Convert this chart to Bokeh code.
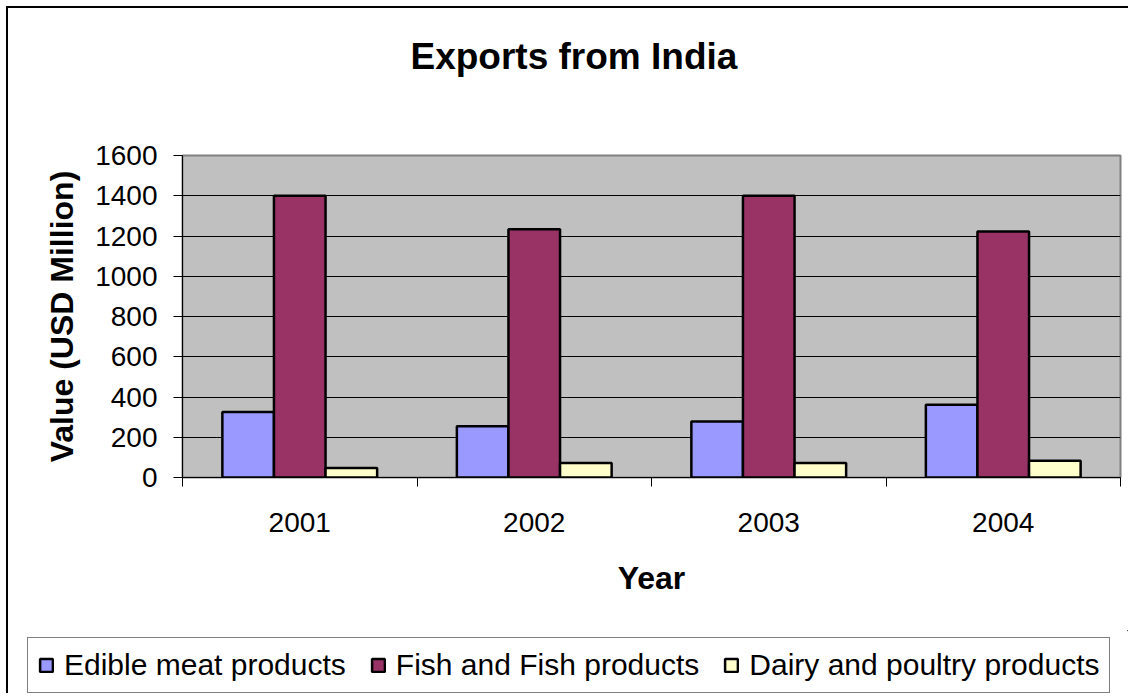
from bokeh.plotting import figure
from bokeh.layouts import column
from bokeh.models import ColumnDataSource, FixedTicker, Legend, LegendItem, Range1d, Title
from bokeh.transform import dodge
from bokeh.embed import file_html
from bokeh.resources import INLINE

# ---- data ----
years = ["2001", "2002", "2003", "2004"]
series_names = ["Edible meat products", "Fish and Fish products", "Dairy and poultry products"]
edible_meat = [325, 255, 278, 362]
fish_products = [1400, 1234, 1400, 1222]
dairy_poultry = [47, 72, 72, 83]
y_ticks = [0, 200, 400, 600, 800, 1000, 1200, 1400, 1600]

title_text = "Exports from India"
x_title = "Year"
y_title = "Value (USD Million)"

FONT = "Liberation Sans"
colors = ["#9999FF", "#993366", "#FFFFCC"]

xpos = list(range(1, len(years) + 1))
src = ColumnDataSource(dict(x=xpos, meat=edible_meat, fish=fish_products, dairy=dairy_poultry))

p = figure(frame_width=938, frame_height=322, output_backend="svg", toolbar_location=None,
           title=None,
           x_range=Range1d(0.5, len(years) + 0.5), y_range=Range1d(y_ticks[0], y_ticks[-1]),
           min_border_left=174, min_border_right=8, min_border_top=147, min_border_bottom=153,
           background_fill_color="#C0C0C0", border_fill_color="white")
p.frame_align = False

p.outline_line_color = "#808080"
p.outline_line_width = 2

bw = 0.22
fields = ["meat", "fish", "dairy"]
offsets = [-bw, 0, bw]
for f, off, c in zip(fields, offsets, colors):
    p.vbar(x=dodge("x", off), top=f, width=bw, bottom=0, source=src,
           fill_color=c, line_color="black", line_width=2.5)

# title (a blank spacer keeps the title high above the frame)
p.add_layout(Title(text=" ", text_font_size="1px", standoff=76), "above")
p.add_layout(Title(text=title_text, text_font=FONT, text_font_size="37px",
                   text_font_style="bold", text_color="black", align="left",
                   offset=228, standoff=0), "above")

# x axis
xa = p.xaxis[0]
xa.ticker = FixedTicker(ticks=xpos, minor_ticks=[i + 0.5 for i in range(0, len(years) + 1)])
xa.major_label_overrides = {i: y for i, y in zip(xpos, years)}
xa.major_tick_line_color = None
xa.major_tick_out = 9
xa.major_tick_in = 0
xa.minor_tick_line_color = "black"
xa.minor_tick_out = 9
xa.minor_tick_in = 0
xa.axis_line_color = "black"
xa.major_label_text_font = FONT
xa.major_label_text_font_size = "28px"
xa.major_label_text_color = "black"
xa.major_label_standoff = 26
xa.axis_label = x_title
xa.axis_label_text_font = FONT
xa.axis_label_text_font_size = "32px"
xa.axis_label_text_font_style = "bold"
xa.axis_label_text_color = "black"
xa.axis_label_standoff = 25

# y axis
ya = p.yaxis[0]
ya.ticker = FixedTicker(ticks=y_ticks)
ya.minor_tick_line_color = None
ya.major_tick_out = 9
ya.major_tick_in = 0
ya.major_tick_line_color = "black"
ya.axis_line_color = "black"
ya.major_label_text_font = FONT
ya.major_label_text_font_size = "28px"
ya.major_label_text_color = "black"
ya.major_label_standoff = 16
ya.axis_label = y_title
ya.axis_label_text_font = FONT
ya.axis_label_text_font_size = "32px"
ya.axis_label_text_font_style = "bold"
ya.axis_label_text_color = "black"
ya.axis_label_standoff = 12

p.xgrid.grid_line_color = None
p.ygrid.grid_line_color = "black"
p.ygrid.grid_line_width = 1

# ---- legend strip below the chart ----
lf = figure(width=1120, height=63, output_backend="svg", toolbar_location=None, title=None,
            x_range=Range1d(0, 1), y_range=Range1d(0, 1),
            x_axis_location=None, y_axis_location=None,
            min_border_left=0, min_border_right=0, min_border_top=0, min_border_bottom=0,
            background_fill_color="white", border_fill_color="white")
lf.frame_align = False
lf.outline_line_color = None
lf.grid.visible = False
swatches = []
for c in colors:
    # legend swatches only: one hidden bar each, outside the visible range
    swatches.append(lf.vbar(x=[5], top=[5], bottom=[4], width=0.1, fill_color=c,
                            line_color="black", line_width=2.5))

legend = Legend(items=[LegendItem(label=n, renderers=[r]) for n, r in zip(series_names, swatches)],
                orientation="horizontal", location=(19, 0),
                label_text_font=FONT, label_text_font_size="30px", label_text_color="black",
                glyph_width=16, glyph_height=16, label_standoff=10, spacing=24,
                padding=10, margin=0, border_line_color="black", border_line_width=1,
                background_fill_color="white", background_fill_alpha=1)
lf.add_layout(legend)

layout = column(p, lf, spacing=0)
layout.styles = {"border-left": "2px solid black", "border-top": "2px solid black",
                 "margin-left": "6px", "margin-top": "6px"}

open("out.html", "w").write(file_html(layout, INLINE))
